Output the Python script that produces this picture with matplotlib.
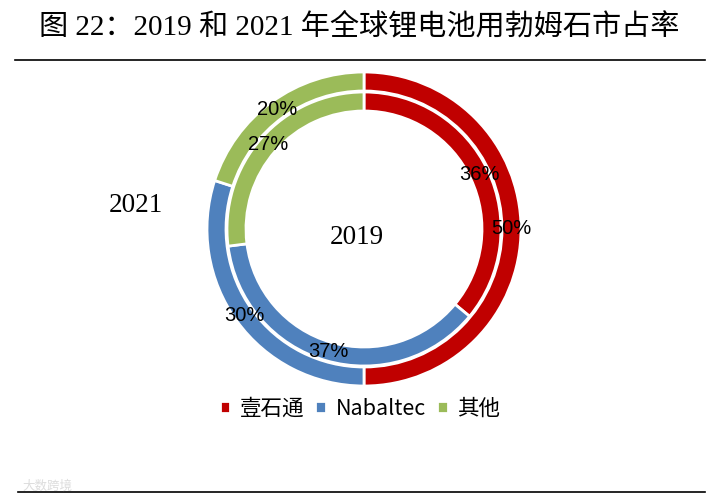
import matplotlib
matplotlib.use("Agg")
import matplotlib.pyplot as plt
from matplotlib.lines import Line2D
import numpy as np

# market share data (%)
companies = ["壹石通", "Nabaltec", "其他"]
share_2021 = [50, 30, 20]   # outer ring
share_2019 = [36, 37, 27]   # inner ring
colors = ["#C00000", "#4F81BD", "#9BBB59"]

title = "图 22：2019 和 2021 年全球锂电池用勃姆石市占率"

W, H = 717, 503
fig = plt.figure(figsize=(W / 100, H / 100), dpi=100)
fig.patch.set_facecolor("white")

cjk = ["Noto Sans CJK SC", "DejaVu Sans"]
serif_cjk = ["Liberation Serif", "Noto Sans CJK SC"]

# title and rules
fig.text(359 / W, 1 - 27 / H, title, ha="center", va="center",
         fontsize=21, family=serif_cjk)
fig.add_artist(Line2D([15 / W, 705 / W], [1 - 60 / H, 1 - 60 / H],
                      color="black", lw=1.2))
fig.add_artist(Line2D([18 / W, 705 / W], [1 - 492 / H, 1 - 492 / H],
                      color="black", lw=1.2))
fig.text(22 / W, 1 - 486 / H, "大数跨境", ha="left", va="center",
         fontsize=9, family=cjk, color="#dddddd")

# donut axes: centre at (364, 229) px, box 340 px square
cx, cy, half = 364, 229, 170
ax = fig.add_axes([(cx - half) / W, (H - cy - half) / H, 2 * half / W, 2 * half / H])

r_out, r_in, ring_w = 157, 137, 19

outer, _ = ax.pie(share_2021, radius=r_out, colors=colors, startangle=90,
                  counterclock=False,
                  wedgeprops=dict(width=ring_w, edgecolor="white", linewidth=2))
inner, _ = ax.pie(share_2019, radius=r_in, colors=colors, startangle=90,
                  counterclock=False,
                  wedgeprops=dict(width=ring_w, edgecolor="white", linewidth=2))

# percentage labels at the middle of each ring segment
for wedges, vals, r in [(outer, share_2021, r_out), (inner, share_2019, r_in)]:
    rm = r - ring_w / 2
    for w, v in zip(wedges, vals):
        ang = np.deg2rad((w.theta1 + w.theta2) / 2)
        ax.text(rm * np.cos(ang), rm * np.sin(ang), f"{v}%", ha="center",
                va="center", fontsize=14.5, family="Liberation Sans")

ax.set_xlim(-half, half)
ax.set_ylim(-half, half)
ax.set_aspect("equal")
ax.axis("off")

# year labels
fig.text(136 / W, 1 - 205 / H, "2021", ha="center", va="center",
         fontsize=19.5, family="Liberation Serif")
fig.text(357 / W, 1 - 237 / H, "2019", ha="center", va="center",
         fontsize=19.5, family="Liberation Serif")

fig.legend(outer, companies, loc="center", bbox_to_anchor=(360 / W, 1 - 409 / H),
           ncol=3, frameon=False, prop=dict(family=cjk, size=15.5),
           handlelength=0.5, handleheight=0.5, handletextpad=0.45,
           columnspacing=0.5, borderaxespad=0)

fig.savefig("out.png", dpi=100)
